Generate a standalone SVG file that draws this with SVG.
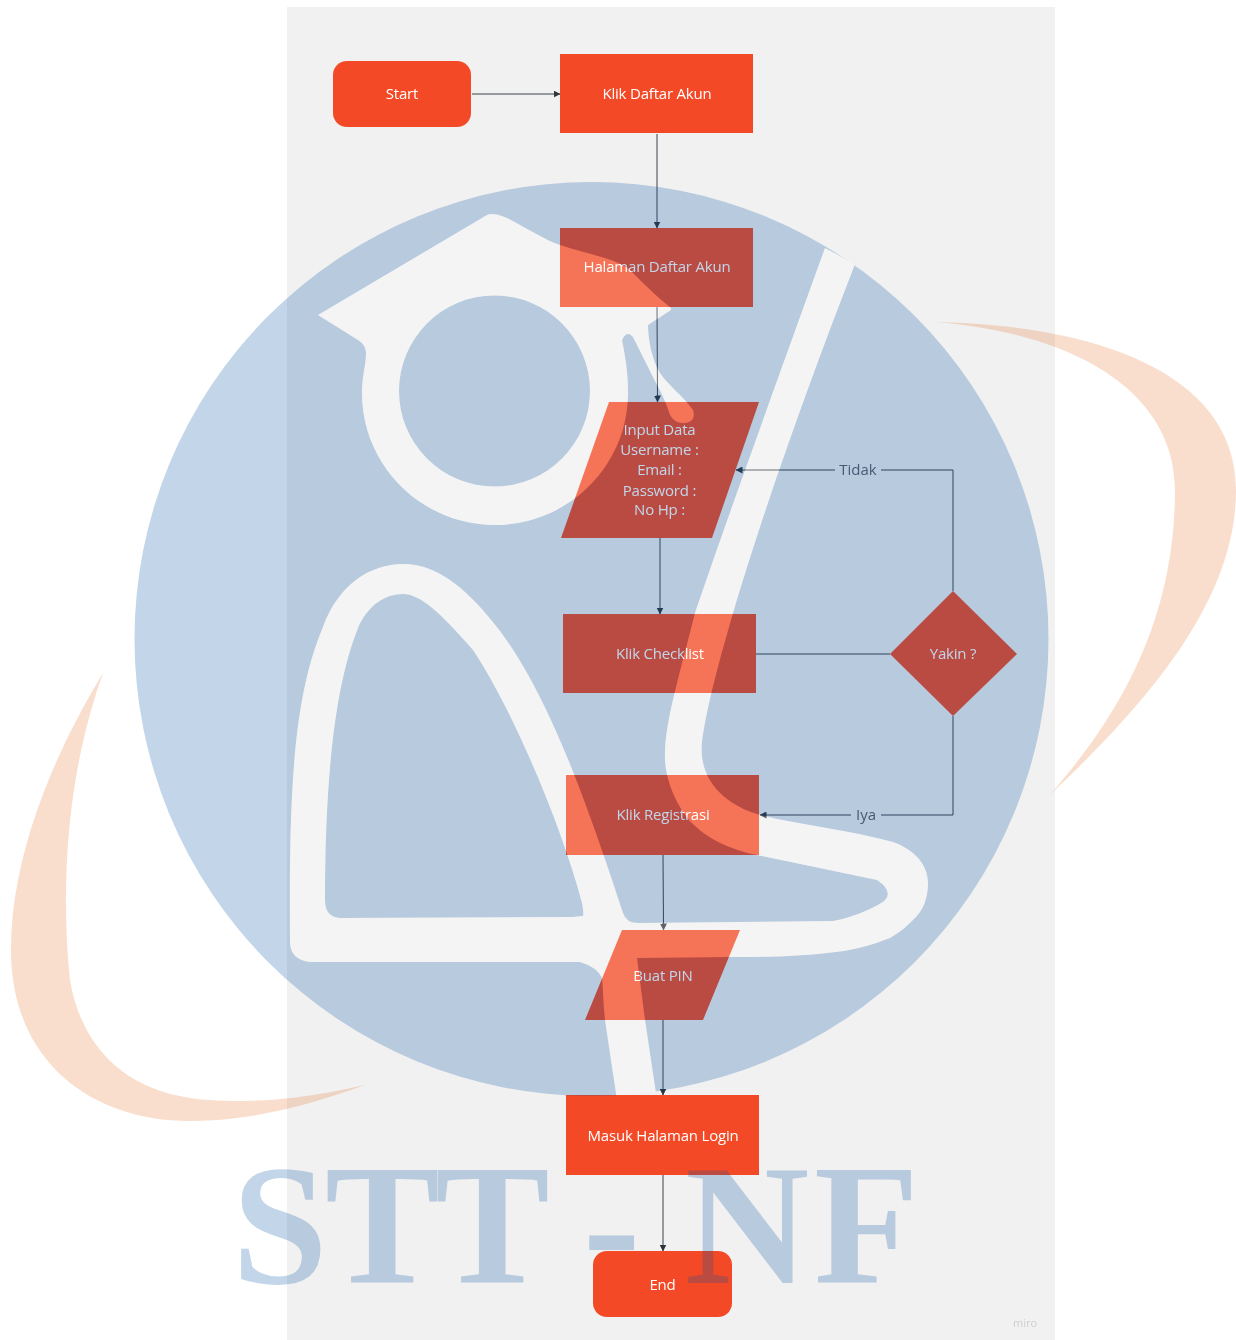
<svg xmlns="http://www.w3.org/2000/svg" width="1236" height="1340" viewBox="0 0 1236 1340">
<style>
.n{fill:#f34a25}
.t{font-family:"Open Sans","Noto Sans",sans-serif;font-size:15px;fill:#fff;text-anchor:middle;letter-spacing:-.2px}
.l{font-family:"Open Sans","Noto Sans",sans-serif;font-size:15px;fill:#5a5e64;text-anchor:middle}
.c{fill:none;stroke:#3a4048;stroke-width:1}
.cr{fill:#e97a3c;opacity:.26}
</style>
<defs>
<filter id="soft" x="0" y="0" width="1236" height="1340" filterUnits="userSpaceOnUse"><feGaussianBlur stdDeviation=".45"/></filter>
<marker id="a" markerWidth="7" markerHeight="7" refX="6.500" refY="3.500" orient="auto" markerUnits="userSpaceOnUse"><path d="M0 0L7 3.500L0 7Z" fill="#2f353c"/></marker>
<path id="fig" fill-rule="evenodd" d="M318 315L487 215Q493 212 507 218C530 230 545 240 560 245C590 255 615 258 630 270C645 285 655 295 671 308L671 310L648 325C648 340 652 360 660 373C668 385 682 395 693 410C696 420 690 423 683 423C675 423 671 418 669 412C665 400 660 390 657 385L633 337Q627 330 622 340C626 360 628 375 628 393C628 466 568 525 495 525C422 525 362 466 362 393C362 375 366 365 366 353Q366 345 358 340ZM399 391A95.500 95.500 0 1 0 590 391A95.500 95.500 0 1 0 399 391Z"/>
<path id="body" fill-rule="evenodd" d="M825 248L855 264C810 380 765 505 733 613C718 665 706 710 702 742C698 780 725 805 760 815C800 825 850 830 893 842C915 850 928 865 928 883C928 900 922 912 913 920C905 928 900 932 890 938C870 946 850 951 827 953C790 957 760 957 730 957L637 958L645 1020L657 1100L617 1100L605 1020C603 1000 603 985 602 978Q597 967 580 962L310 962Q291 960 290 943C289 800 292 700 323 627C338 585 370 564 403 564C440 564 470 592 500 631C540 685 575 765 623 913Q626 923 638 923L833 921C850 918 870 910 883 902Q895 892 877 880L757 855C730 850 695 835 680 807C670 790 664 770 665 752C666 720 678 680 695 613C725 525 770 400 825 248ZM325 900C325 790 333 690 358 628C368 605 385 594 403 594C420 594 440 612 473 650C510 705 560 820 582 903Q584 912 583 916L573 917L340 918Q325 917 325 900Z"/>
<mask id="m" maskUnits="userSpaceOnUse" x="0" y="0" width="1236" height="1340">
<rect width="1236" height="1340" fill="#fff"/><use href="#fig" fill="#000"/><use href="#body" fill="#000"/>
</mask>
<clipPath id="cc"><circle cx="591.500" cy="639" r="457"/></clipPath>
</defs>
<rect width="1236" height="1340" fill="#fff"/>
<g filter="url(#soft)">
<rect x="287" y="7" width="768" height="1333" fill="#f1f1f1"/>
<path class="cr" d="M935 322C1090 325 1236 370 1236 490C1236 600 1150 700 1050 795C1120 715 1175 620 1175 490C1175 400 1090 335 935 322Z"/>
<path class="cr" d="M103 673C50 760 11 860 11 950C11 1060 90 1121 190 1121C250 1121 310 1105 365 1085C300 1100 250 1103 210 1100C120 1095 80 1040 70 980C60 880 68 770 103 673Z"/>
<g id="connectors">
<path class="c" marker-end="url(#a)" d="M472 94H560"/>
<path class="c" marker-end="url(#a)" d="M657 134V228"/>
<path class="c" marker-end="url(#a)" d="M657 307L657.500 402"/>
<path class="c" marker-end="url(#a)" d="M660 538V614"/>
<path class="c" d="M756 654H890"/>
<path class="c" d="M953 591V470H881"/>
<path class="c" marker-end="url(#a)" d="M835 470H736"/>
<path class="c" d="M953 716V815H881"/>
<path class="c" marker-end="url(#a)" d="M851 815H760"/>
<path class="c" marker-end="url(#a)" d="M663 855L663.500 930"/>
<path class="c" marker-end="url(#a)" d="M663 1020V1095"/>
<path class="c" marker-end="url(#a)" d="M663 1175V1251"/>
<text class="l" x="858" y="475">Tidak</text>
<text class="l" x="866" y="820">Iya</text>
</g>
<g id="start"><rect class="n" x="333" y="61" width="138" height="66" rx="14"/><text class="t" x="402" y="99">Start</text></g>
<g id="klik-daftar"><rect class="n" x="560" y="54" width="193" height="79"/><text class="t" x="657" y="99">Klik Daftar Akun</text></g>
<g id="halaman"><rect class="n" x="560" y="228" width="193" height="79"/><text class="t" x="657" y="272">Halaman Daftar Akun</text></g>
<g id="input"><path class="n" d="M609 402H759L712 538H561Z"/>
<text class="t" x="659.500" y="435">Input Data</text><text class="t" x="659.500" y="455">Username :</text><text class="t" x="659.500" y="475">Email :</text><text class="t" x="659.500" y="496">Password :</text><text class="t" x="659.500" y="515">No Hp :</text></g>
<g id="checklist"><rect class="n" x="563" y="614" width="193" height="79"/><text class="t" x="660" y="659">Klik Checklist</text></g>
<g id="yakin"><path class="n" d="M890 654L953 591L1017 654L953 716Z"/><text class="t" x="953" y="659">Yakin ?</text></g>
<g id="registrasi"><rect class="n" x="566" y="775" width="193" height="80"/><text class="t" x="663" y="820">Klik Registrasi</text></g>
<g id="pin"><path class="n" d="M622 930H740L703 1020H585Z"/><text class="t" x="663" y="981">Buat PIN</text></g>
<g id="login"><rect class="n" x="566" y="1095" width="193" height="80"/><text class="t" x="663" y="1141">Masuk Halaman Login</text></g>
<g id="end"><rect class="n" x="593" y="1251" width="139" height="66" rx="14"/><text class="t" x="662.500" y="1290">End</text></g>
<text x="1025" y="1327" font-family="Open Sans,sans-serif" font-size="11" fill="#cfcfcf" text-anchor="middle">miro</text>
<g id="watermark">
<circle cx="591.500" cy="639" r="457" fill="#004fa2" fill-opacity=".24" mask="url(#m)"/>
<g clip-path="url(#cc)" fill="#fff" fill-opacity=".23"><use href="#fig"/><use href="#body"/></g>
<text x="232 325 435 545 583 640 685 814" y="1283" font-family="Liberation Serif,serif" font-weight="bold" font-size="172" fill="#004fa2" fill-opacity=".24">STT - NF</text>
</g>
</g>
</svg>
